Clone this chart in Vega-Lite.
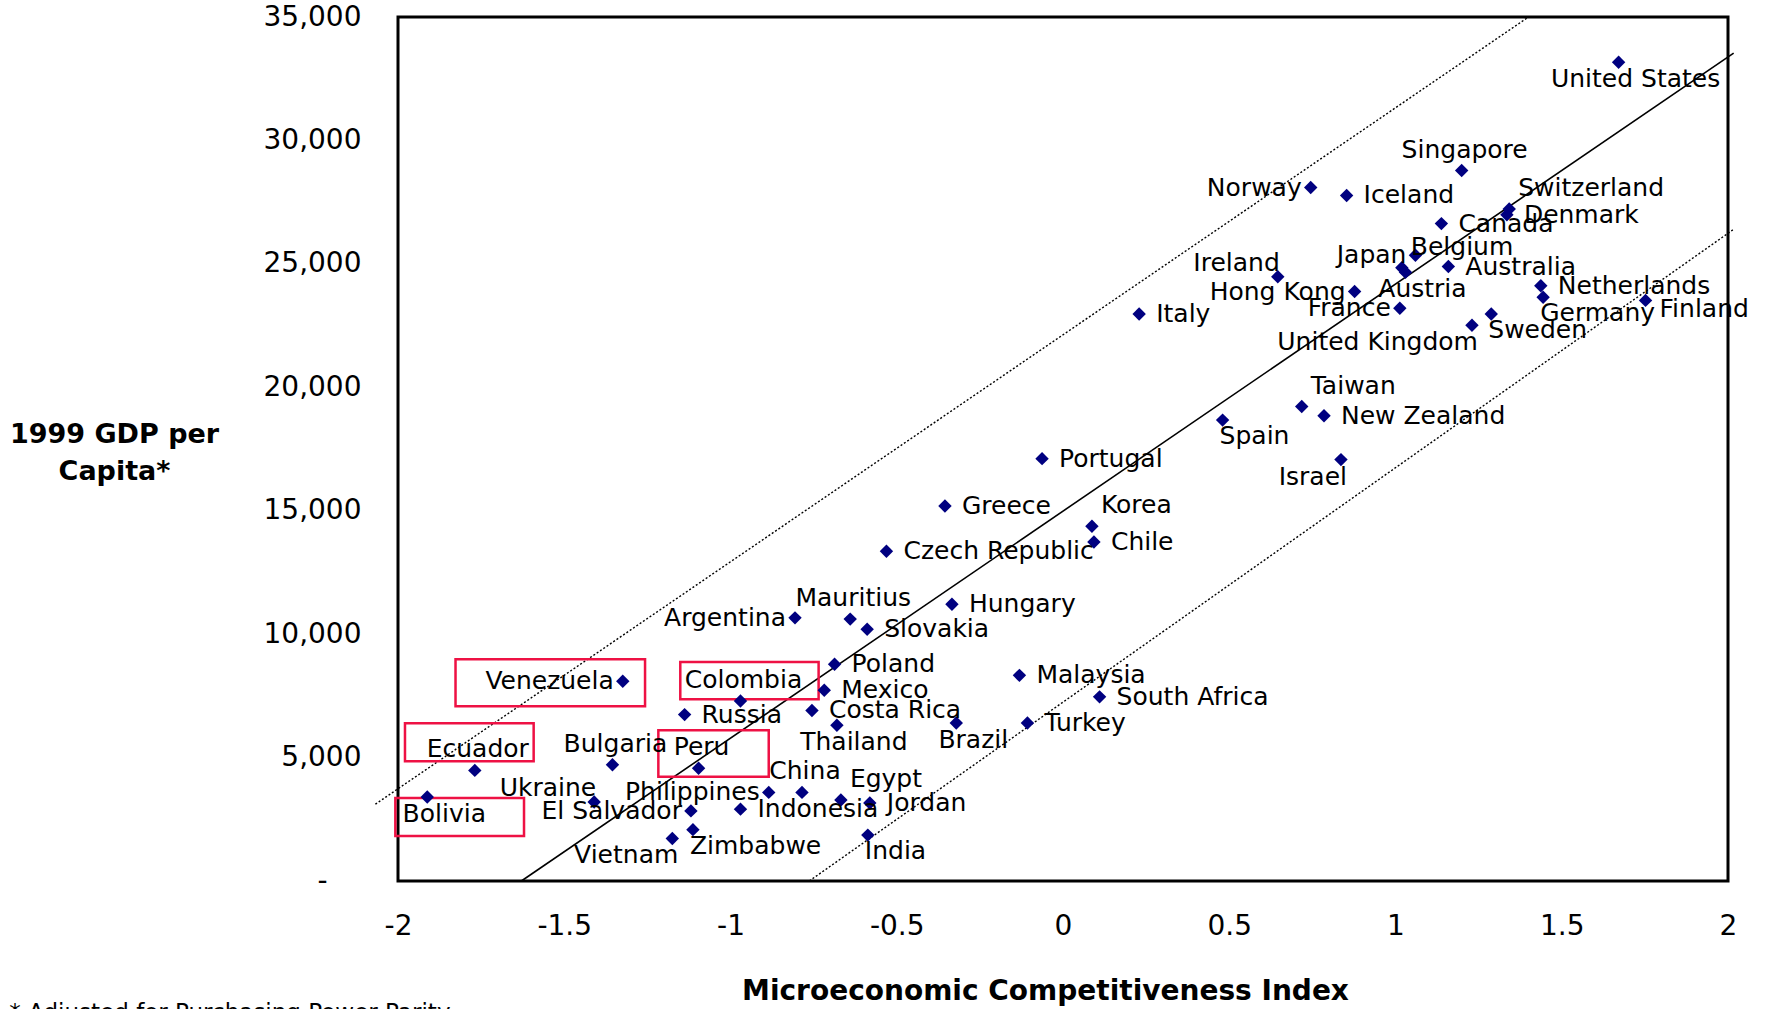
{
  "$schema": "https://vega.github.io/schema/vega-lite/v6.json",
  "width": 1330,
  "height": 864,
  "autosize": {"type": "none"},
  "padding": {"left": 398, "top": 17, "right": 41, "bottom": 128},
  "background": "white",
  "config": {
    "view": {"stroke": "black", "strokeWidth": 3},
    "font": "DejaVu Sans"
  },
  "title": {
    "text": "* Adjusted for Purchasing Power Parity",
    "orient": "bottom",
    "anchor": "start",
    "frame": "bounds",
    "fontSize": 23,
    "fontWeight": "normal",
    "font": "DejaVu Sans",
    "color": "black",
    "offset": -3
  },
  "datasets": {
    "countries": [
      {"country": "United States", "mci": 1.671, "gdp": 33170, "pos": "b"},
      {"country": "Singapore", "mci": 1.199, "gdp": 28780, "pos": "t"},
      {"country": "Norway", "mci": 0.745, "gdp": 28090, "pos": "l"},
      {"country": "Iceland", "mci": 0.853, "gdp": 27770, "pos": "r"},
      {"country": "Switzerland", "mci": 1.342, "gdp": 27220, "pos": "tr"},
      {"country": "Denmark", "mci": 1.335, "gdp": 26990, "pos": "r"},
      {"country": "Canada", "mci": 1.138, "gdp": 26630, "pos": "r"},
      {"country": "Japan", "mci": 1.060, "gdp": 25350, "pos": "l"},
      {"country": "Belgium", "mci": 1.019, "gdp": 24840, "pos": "tr"},
      {"country": "Austria", "mci": 1.030, "gdp": 24660, "pos": "b"},
      {"country": "Australia", "mci": 1.159, "gdp": 24890, "pos": "r"},
      {"country": "Ireland", "mci": 0.646, "gdp": 24480, "pos": "tl"},
      {"country": "Hong Kong", "mci": 0.877, "gdp": 23880, "pos": "l"},
      {"country": "Italy", "mci": 0.229, "gdp": 22970, "pos": "r"},
      {"country": "France", "mci": 1.013, "gdp": 23200, "pos": "l"},
      {"country": "United Kingdom", "mci": 1.230, "gdp": 22510, "pos": "bl"},
      {"country": "Sweden", "mci": 1.288, "gdp": 22970, "pos": "br"},
      {"country": "Netherlands", "mci": 1.437, "gdp": 24110, "pos": "r"},
      {"country": "Germany", "mci": 1.444, "gdp": 23650, "pos": "br"},
      {"country": "Finland", "mci": 1.752, "gdp": 23520, "pos": "rb"},
      {"country": "Taiwan", "mci": 0.718, "gdp": 19220, "pos": "tr"},
      {"country": "New Zealand", "mci": 0.785, "gdp": 18850, "pos": "r"},
      {"country": "Spain", "mci": 0.480, "gdp": 18670, "pos": "br"},
      {"country": "Israel", "mci": 0.836, "gdp": 17070, "pos": "bl"},
      {"country": "Portugal", "mci": -0.063, "gdp": 17110, "pos": "r"},
      {"country": "Greece", "mci": -0.355, "gdp": 15190, "pos": "r"},
      {"country": "Korea", "mci": 0.087, "gdp": 14370, "pos": "tr"},
      {"country": "Chile", "mci": 0.093, "gdp": 13730, "pos": "r"},
      {"country": "Czech Republic", "mci": -0.531, "gdp": 13360, "pos": "r"},
      {"country": "Hungary", "mci": -0.334, "gdp": 11210, "pos": "r"},
      {"country": "Mauritius", "mci": -0.640, "gdp": 10610, "pos": "t"},
      {"country": "Slovakia", "mci": -0.589, "gdp": 10200, "pos": "r"},
      {"country": "Argentina", "mci": -0.806, "gdp": 10660, "pos": "l"},
      {"country": "Poland", "mci": -0.687, "gdp": 8780, "pos": "r"},
      {"country": "Mexico", "mci": -0.718, "gdp": 7730, "pos": "r"},
      {"country": "Malaysia", "mci": -0.131, "gdp": 8330, "pos": "r"},
      {"country": "South Africa", "mci": 0.110, "gdp": 7460, "pos": "r"},
      {"country": "Costa Rica", "mci": -0.755, "gdp": 6910, "pos": "r"},
      {"country": "Thailand", "mci": -0.680, "gdp": 6310, "pos": "b"},
      {"country": "Brazil", "mci": -0.321, "gdp": 6400, "pos": "b"},
      {"country": "Turkey", "mci": -0.107, "gdp": 6400, "pos": "r"},
      {"country": "Venezuela", "mci": -1.324, "gdp": 8095, "pos": "l"},
      {"country": "Colombia", "mci": -0.970, "gdp": 7290, "pos": "t"},
      {"country": "Russia", "mci": -1.138, "gdp": 6740, "pos": "r"},
      {"country": "Ecuador", "mci": -1.769, "gdp": 4480, "pos": "t"},
      {"country": "Bulgaria", "mci": -1.355, "gdp": 4710, "pos": "t"},
      {"country": "Peru", "mci": -1.096, "gdp": 4570, "pos": "t"},
      {"country": "Bolivia", "mci": -1.912, "gdp": 3400, "pos": "b"},
      {"country": "Ukraine", "mci": -1.410, "gdp": 3200, "pos": "tl"},
      {"country": "Philippines", "mci": -0.885, "gdp": 3590, "pos": "l"},
      {"country": "China", "mci": -0.785, "gdp": 3590, "pos": "t"},
      {"country": "Egypt", "mci": -0.668, "gdp": 3280, "pos": "tr"},
      {"country": "Jordan", "mci": -0.581, "gdp": 3160, "pos": "r"},
      {"country": "El Salvador", "mci": -1.119, "gdp": 2840, "pos": "l"},
      {"country": "Indonesia", "mci": -0.970, "gdp": 2910, "pos": "r"},
      {"country": "Zimbabwe", "mci": -1.113, "gdp": 2080, "pos": "br"},
      {"country": "Vietnam", "mci": -1.175, "gdp": 1725, "pos": "bl"},
      {"country": "India", "mci": -0.587, "gdp": 1860, "pos": "br"}
    ],
    "lines": [
      {"line": "upper", "kind": "bound", "mci": -2.068, "gdp": 3111},
      {"line": "upper", "kind": "bound", "mci": 1.400, "gdp": 35000},
      {"line": "fit", "kind": "fit", "mci": -1.629, "gdp": 0},
      {"line": "fit", "kind": "fit", "mci": 2.017, "gdp": 33536},
      {"line": "lower", "kind": "bound", "mci": -0.763, "gdp": 0},
      {"line": "lower", "kind": "bound", "mci": 2.017, "gdp": 26399}
    ],
    "boxes": [
      {"country": "Venezuela", "mci": -1.827, "mci2": -1.257, "gdp": 7076, "gdp2": 8979},
      {"country": "Colombia", "mci": -1.151, "mci2": -0.735, "gdp": 7359, "gdp2": 8870},
      {"country": "Ecuador", "mci": -1.979, "mci2": -1.592, "gdp": 4848, "gdp2": 6387},
      {"country": "Peru", "mci": -1.217, "mci2": -0.885, "gdp": 4224, "gdp2": 6104},
      {"country": "Bolivia", "mci": -2.008, "mci2": -1.621, "gdp": 1823, "gdp2": 3362}
    ]
  },
  "encoding": {
    "x": {
      "field": "mci",
      "type": "quantitative",
      "scale": {"domain": [-2, 2], "nice": false, "zero": false},
      "axis": {
        "values": [-2, -1.5, -1, -0.5, 0, 0.5, 1, 1.5, 2],
        "labelExpr": "'' + datum.value",
        "ticks": false,
        "domain": false,
        "grid": false,
        "labelFontSize": 28,
        "labelFont": "DejaVu Sans",
        "labelColor": "black",
        "labelPadding": 31,
        "labelFlush": false,
        "labelOverlap": false,
        "title": "Microeconomic Competitiveness Index",
        "titleFont": "DejaVu Sans",
        "titleFontSize": 28,
        "titleFontWeight": "bold",
        "titleColor": "black",
        "titleAlign": "center",
        "titleBaseline": "alphabetic",
        "titleX": 647,
        "titleY": 118
      }
    },
    "y": {
      "field": "gdp",
      "type": "quantitative",
      "scale": {"domain": [0, 35000], "nice": false, "zero": false},
      "axis": {
        "values": [0, 5000, 10000, 15000, 20000, 25000, 30000, 35000],
        "labelExpr": "datum.value === 0 ? '-' : format(datum.value, ',')",
        "ticks": false,
        "domain": false,
        "grid": false,
        "labelFontSize": 28,
        "labelFont": "DejaVu Sans",
        "labelColor": "black",
        "labelPadding": {"condition": {"test": "datum.value === 0", "value": 71}, "value": 37},
        "labelFlush": false,
        "labelOverlap": false,
        "title": ["1999 GDP per", "Capita*"],
        "titleFont": "DejaVu Sans",
        "titleFontSize": 27,
        "titleFontWeight": "bold",
        "titleColor": "black",
        "titleAngle": 0,
        "titleAlign": "center",
        "titleBaseline": "middle",
        "titleLineHeight": 37,
        "titleX": -284,
        "titleY": 417
      }
    }
  },
  "layer": [
    {
      "data": {"name": "lines"},
      "transform": [{"filter": "datum.kind === 'bound'"}],
      "mark": {"type": "line", "color": "black", "strokeWidth": 1.4, "strokeDash": [2, 2]},
      "encoding": {"detail": {"field": "line"}}
    },
    {
      "data": {"name": "lines"},
      "transform": [{"filter": "datum.kind === 'fit'"}],
      "mark": {"type": "line", "color": "black", "strokeWidth": 1.6},
      "encoding": {}
    },
    {
      "data": {"name": "boxes"},
      "mark": {"type": "rect", "fill": "transparent", "stroke": "#ee1144", "strokeWidth": 2.5},
      "encoding": {
        "x2": {"field": "mci2"},
        "y2": {"field": "gdp2"}
      }
    },
    {
      "data": {"name": "countries"},
      "mark": {"type": "point", "shape": "diamond", "filled": true, "size": 180, "color": "#000080", "opacity": 1}
    },
    {
      "data": {"name": "countries"},
      "transform": [{"filter": "datum.pos === 'r'"}],
      "mark": {"type": "text", "align": "left", "baseline": "middle", "dx": 17, "dy": 0, "fontSize": 25, "font": "DejaVu Sans", "color": "black"},
      "encoding": {"text": {"field": "country"}}
    },
    {
      "data": {"name": "countries"},
      "transform": [{"filter": "datum.pos === 'rb'"}],
      "mark": {"type": "text", "align": "left", "baseline": "middle", "dx": 14, "dy": 9, "fontSize": 25, "font": "DejaVu Sans", "color": "black"},
      "encoding": {"text": {"field": "country"}}
    },
    {
      "data": {"name": "countries"},
      "transform": [{"filter": "datum.pos === 'l'"}],
      "mark": {"type": "text", "align": "right", "baseline": "middle", "dx": -9, "dy": 0, "fontSize": 25, "font": "DejaVu Sans", "color": "black"},
      "encoding": {"text": {"field": "country"}}
    },
    {
      "data": {"name": "countries"},
      "transform": [{"filter": "datum.pos === 't'"}],
      "mark": {"type": "text", "align": "center", "baseline": "middle", "dx": 3, "dy": -21, "fontSize": 25, "font": "DejaVu Sans", "color": "black"},
      "encoding": {"text": {"field": "country"}}
    },
    {
      "data": {"name": "countries"},
      "transform": [{"filter": "datum.pos === 'b'"}],
      "mark": {"type": "text", "align": "center", "baseline": "middle", "dx": 17, "dy": 17, "fontSize": 25, "font": "DejaVu Sans", "color": "black"},
      "encoding": {"text": {"field": "country"}}
    },
    {
      "data": {"name": "countries"},
      "transform": [{"filter": "datum.pos === 'tr'"}],
      "mark": {"type": "text", "align": "left", "baseline": "middle", "dx": 9, "dy": -21, "fontSize": 25, "font": "DejaVu Sans", "color": "black"},
      "encoding": {"text": {"field": "country"}}
    },
    {
      "data": {"name": "countries"},
      "transform": [{"filter": "datum.pos === 'tl'"}],
      "mark": {"type": "text", "align": "right", "baseline": "middle", "dx": 2, "dy": -14, "fontSize": 25, "font": "DejaVu Sans", "color": "black"},
      "encoding": {"text": {"field": "country"}}
    },
    {
      "data": {"name": "countries"},
      "transform": [{"filter": "datum.pos === 'br'"}],
      "mark": {"type": "text", "align": "left", "baseline": "middle", "dx": -3, "dy": 16, "fontSize": 25, "font": "DejaVu Sans", "color": "black"},
      "encoding": {"text": {"field": "country"}}
    },
    {
      "data": {"name": "countries"},
      "transform": [{"filter": "datum.pos === 'bl'"}],
      "mark": {"type": "text", "align": "right", "baseline": "middle", "dx": 6, "dy": 17, "fontSize": 25, "font": "DejaVu Sans", "color": "black"},
      "encoding": {"text": {"field": "country"}}
    }
  ]
}
